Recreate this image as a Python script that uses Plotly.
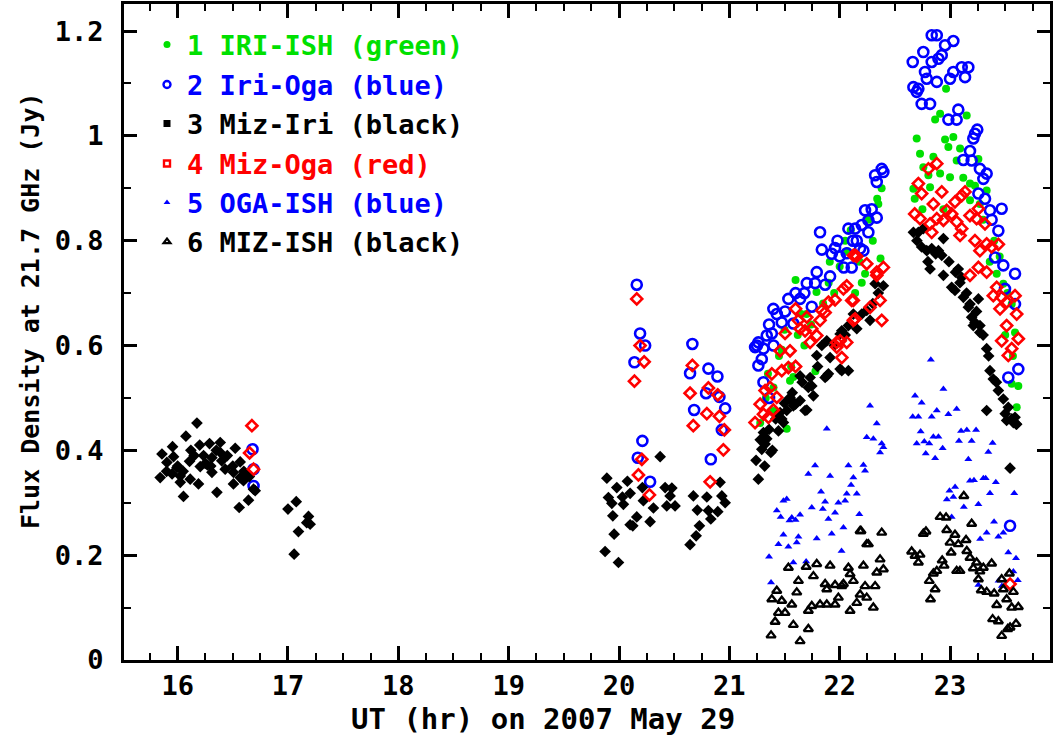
import plotly.graph_objects as go

# ---------------- data: (UT hour, flux density Jy) ----------------
iri_ish = [  # 1 IRI-ISH (green)
    (21.28, 0.452), (21.35, 0.546), (21.40, 0.520), (21.475, 0.592), (21.52, 0.441), (21.55, 0.533),
    (21.58, 0.540), (21.60, 0.725), (21.62, 0.620), (21.68, 0.600), (21.78, 0.551), (21.79, 0.702),
    (21.70, 0.660), (21.85, 0.680), (21.91, 0.760), (22.00, 0.751), (22.05, 0.800), (22.10, 0.820),
    (22.14, 0.700), (22.20, 0.720), (22.23, 0.737), (22.30, 0.800), (22.35, 0.870), (22.37, 0.766),
    (22.38, 0.900), (22.34, 0.880), (21.45, 0.580), (21.50, 0.630), (21.65, 0.660), (21.90, 0.720),
    (22.07, 0.780), (21.40, 0.475), (21.33, 0.500), (21.56, 0.560), (21.74, 0.640), (21.95, 0.700),
    (22.26, 0.840), (22.18, 0.760),
    (22.964, 1.090), (22.91, 1.042), (22.865, 1.031), (23.151, 1.039), (22.698, 0.995), (22.955, 0.993),
    (23.03, 0.998), (22.985, 0.979), (23.091, 0.976), (22.728, 0.966), (22.849, 0.960), (23.06, 0.953),
    (23.257, 0.956), (22.758, 0.940), (22.91, 0.928), (23.00, 0.921), (22.804, 0.925), (23.181, 0.909),
    (22.668, 0.899), (22.819, 0.902), (23.226, 0.905), (23.332, 0.896), (23.181, 0.877), (23.423, 0.737),
    (23.483, 0.718), (23.559, 0.679), (23.589, 0.625), (23.559, 0.527), (23.619, 0.523), (23.604, 0.482),
    (22.68, 0.880), (22.75, 0.860), (23.12, 0.920), (23.27, 0.870), (23.30, 0.840), (23.40, 0.800),
    (23.45, 0.770), (23.52, 0.700), (23.57, 0.580), (23.50, 0.620), (22.94, 0.860), (23.36, 0.760),
]

iri_oga = [  # 2 Iri-Oga (blue)
    (16.679, 0.402), (16.688, 0.364), (16.688, 0.332),
    (20.161, 0.716), (20.191, 0.623), (20.237, 0.600), (20.14, 0.568), (20.212, 0.418), (20.17, 0.386),
    (20.282, 0.340),
    (20.665, 0.603), (20.644, 0.547), (20.81, 0.556), (20.892, 0.541), (20.789, 0.509), (20.91, 0.502),
    (20.962, 0.480), (20.681, 0.477), (20.932, 0.439), (20.832, 0.383),
    (21.822, 0.816), (22.079, 0.823), (22.14, 0.823), (22.155, 0.800), (21.838, 0.783), (21.958, 0.786),
    (21.928, 0.775), (22.064, 0.776), (22.109, 0.749), (21.792, 0.740), (21.913, 0.732), (21.702, 0.719),
    (21.777, 0.719), (21.868, 0.716), (21.641, 0.689), (21.535, 0.689), (21.747, 0.674), (21.399, 0.670),
    (21.505, 0.665), (21.475, 0.644), (21.58, 0.642), (21.385, 0.623), (21.339, 0.619), (21.263, 0.606),
    (21.233, 0.597), (21.309, 0.594), (21.294, 0.574), (21.263, 0.562), (21.309, 0.530), (22.037, 0.749),
    (22.381, 0.937), (22.396, 0.931), (22.321, 0.925), (22.336, 0.912), (22.23, 0.858), (22.336, 0.844),
    (22.26, 0.839), (22.26, 0.816), (22.185, 0.785), (22.215, 0.781),
    (21.25, 0.600), (21.36, 0.640), (21.43, 0.660), (21.60, 0.700), (21.68, 0.700), (21.98, 0.800),
    (22.00, 0.770), (22.12, 0.800), (22.29, 0.860), (22.20, 0.830), (21.36, 0.500), (21.40, 0.600),
    (22.834, 1.192), (22.88, 1.192), (22.955, 1.173), (23.03, 1.181), (22.758, 1.160), (22.925, 1.154),
    (22.895, 1.147), (22.662, 1.141), (22.834, 1.141), (22.773, 1.122), (23.106, 1.131), (23.166, 1.131),
    (23.03, 1.122), (23.136, 1.112), (22.789, 1.109), (23.00, 1.109), (22.88, 1.103), (22.668, 1.093),
    (22.713, 1.090), (22.698, 1.084), (22.743, 1.061), (22.819, 1.061), (23.075, 1.050), (22.985, 1.031),
    (23.06, 1.031), (23.247, 1.012), (23.226, 1.004), (23.211, 0.995), (23.181, 0.971), (23.121, 0.954),
    (23.196, 0.953), (23.271, 0.937), (23.332, 0.928), (23.302, 0.918), (23.257, 0.890), (23.317, 0.880),
    (23.468, 0.861), (23.362, 0.858), (23.377, 0.840), (23.438, 0.819), (23.408, 0.768), (23.483, 0.753),
    (23.589, 0.737), (23.498, 0.708), (23.589, 0.679), (23.619, 0.555), (23.528, 0.539), (23.544, 0.256),
]

miz_iri = [  # 3 Miz-Iri (black)
    (16.175, 0.452), (16.075, 0.427), (15.954, 0.407), (16.289, 0.413), (16.386, 0.415), (16.522, 0.404),
    (15.858, 0.393), (15.963, 0.388), (15.903, 0.377), (16.108, 0.379), (16.235, 0.390), (16.311, 0.386),
    (16.386, 0.396), (16.567, 0.378), (15.994, 0.367), (16.205, 0.369), (16.431, 0.364), (15.842, 0.348),
    (16.024, 0.351), (16.114, 0.345), (16.311, 0.358), (16.506, 0.358), (16.567, 0.348), (16.189, 0.336),
    (16.024, 0.339), (16.053, 0.312), (16.356, 0.320), (16.506, 0.336), (16.703, 0.323), (16.642, 0.305),
    (16.558, 0.291), (16.597, 0.342), (16.688, 0.326),
    (15.90, 0.360), (15.95, 0.355), (16.00, 0.370), (16.05, 0.360), (16.15, 0.390), (16.25, 0.375),
    (16.30, 0.370), (16.35, 0.400), (16.40, 0.380), (16.45, 0.390), (16.50, 0.370), (16.60, 0.360),
    (16.65, 0.350), (16.27, 0.372), (16.12, 0.400), (16.20, 0.410),
    (17.00, 0.288), (17.075, 0.302), (17.186, 0.274), (17.201, 0.259), (17.095, 0.245), (17.056, 0.202),
    (17.17, 0.262),
    (20.373, 0.388), (19.89, 0.347), (20.076, 0.341), (19.98, 0.329), (19.904, 0.310), (20.031, 0.311),
    (20.101, 0.318), (20.212, 0.329), (20.418, 0.329), (20.479, 0.328), (19.935, 0.299), (20.04, 0.297),
    (20.221, 0.304), (20.312, 0.290), (20.433, 0.294), (20.508, 0.294), (20.463, 0.313), (19.944, 0.275),
    (20.161, 0.273), (20.101, 0.258), (20.125, 0.256), (20.282, 0.264), (19.956, 0.240), (19.874, 0.207),
    (19.995, 0.186),
    (20.916, 0.339), (20.674, 0.313), (20.796, 0.311), (20.932, 0.313), (20.962, 0.300), (20.71, 0.286),
    (20.81, 0.285), (20.895, 0.283), (20.832, 0.269), (20.729, 0.256), (20.699, 0.237), (20.644, 0.220),
    (21.263, 0.345), (21.242, 0.381), (21.376, 0.396), (21.294, 0.402), (21.339, 0.422), (21.309, 0.434),
    (21.445, 0.437), (21.49, 0.453), (21.52, 0.476), (21.60, 0.488), (21.686, 0.476), (21.641, 0.495),
    (21.762, 0.504), (21.716, 0.520), (21.732, 0.539), (21.641, 0.542), (21.883, 0.542), (21.792, 0.581),
    (21.913, 0.577), (22.004, 0.555), (22.079, 0.552), (21.883, 0.609), (22.019, 0.628), (22.155, 0.632),
    (22.275, 0.648), (22.321, 0.718), (22.396, 0.714), (22.245, 0.667), (21.46, 0.472), (21.55, 0.501),
    (21.324, 0.412), (21.747, 0.523), (21.702, 0.477), (21.55, 0.498), (21.58, 0.485), (21.475, 0.460),
    (22.019, 0.552), (21.838, 0.600), (22.004, 0.622), (22.079, 0.638), (22.124, 0.660), (21.898, 0.546),
    (21.868, 0.539),
    (21.28, 0.420), (21.36, 0.440), (21.42, 0.460), (21.50, 0.490), (21.57, 0.510), (21.66, 0.530),
    (21.80, 0.560), (21.95, 0.600), (22.05, 0.620), (22.20, 0.660), (22.30, 0.680), (22.35, 0.700),
    (21.32, 0.370), (21.39, 0.400),
    (22.668, 0.816), (22.713, 0.816), (22.758, 0.823), (22.743, 0.788), (22.789, 0.781), (22.834, 0.785),
    (22.895, 0.781), (22.94, 0.804), (22.925, 0.772), (22.819, 0.746), (22.94, 0.734), (23.075, 0.746),
    (23.106, 0.730), (23.015, 0.711), (23.045, 0.705), (23.121, 0.692), (23.181, 0.679), (23.257, 0.689),
    (23.166, 0.673), (23.196, 0.654), (23.226, 0.644), (23.271, 0.638), (23.211, 0.638), (23.332, 0.594),
    (23.362, 0.552), (23.392, 0.536), (23.438, 0.514), (23.483, 0.498), (23.528, 0.482), (23.332, 0.476),
    (23.589, 0.463), (23.513, 0.457), (23.574, 0.453), (23.604, 0.450), (23.544, 0.366),
    (22.70, 0.800), (22.80, 0.760), (22.87, 0.775), (22.99, 0.760), (23.05, 0.740), (23.15, 0.700),
    (23.24, 0.665), (23.30, 0.620), (23.35, 0.580), (23.42, 0.530), (23.50, 0.470), (23.56, 0.460),
    (23.60, 0.450), (23.27, 0.625), (23.09, 0.720),
]

miz_oga = [  # 4 Miz-Oga (red)
    (16.673, 0.447), (16.652, 0.395), (16.688, 0.364),
    (20.161, 0.689), (20.191, 0.600), (20.228, 0.569), (20.14, 0.532), (20.207, 0.383), (20.176, 0.353),
    (20.276, 0.315),
    (20.665, 0.562), (20.644, 0.509), (20.81, 0.519), (20.895, 0.506), (20.796, 0.470), (20.91, 0.465),
    (20.673, 0.447), (20.955, 0.439), (20.946, 0.401), (20.826, 0.340),
    (21.60, 0.670), (21.702, 0.654), (21.641, 0.632), (21.747, 0.632), (21.822, 0.648), (21.868, 0.663),
    (21.958, 0.687), (22.034, 0.708), (22.064, 0.714), (22.124, 0.772), (22.124, 0.648), (22.109, 0.686),
    (21.973, 0.606), (22.064, 0.606), (22.019, 0.577), (21.505, 0.623), (21.792, 0.619), (21.732, 0.606),
    (21.46, 0.590), (21.55, 0.590), (21.475, 0.552), (21.60, 0.560), (21.535, 0.558), (21.385, 0.546),
    (21.369, 0.520), (21.324, 0.514), (21.43, 0.501), (21.279, 0.488), (21.399, 0.477), (21.309, 0.469),
    (21.233, 0.453), (21.354, 0.463), (21.838, 0.667), (21.898, 0.683), (21.686, 0.628), (21.625, 0.648),
    (22.14, 0.772), (22.245, 0.756), (22.396, 0.749), (22.336, 0.740), (22.155, 0.770), (22.336, 0.734),
    (22.124, 0.686), (22.366, 0.686), (22.275, 0.673), (22.381, 0.648), (22.14, 0.651), (22.004, 0.609),
    (21.973, 0.597),
    (22.88, 0.947), (22.804, 0.937), (22.713, 0.909), (22.743, 0.890), (22.925, 0.893), (22.849, 0.870),
    (23.136, 0.893), (23.106, 0.886), (23.045, 0.874), (22.68, 0.851), (22.728, 0.842), (22.97, 0.858),
    (23.015, 0.851), (23.257, 0.861), (22.94, 0.839), (22.88, 0.842), (23.181, 0.848), (22.819, 0.832),
    (23.06, 0.836), (23.317, 0.832), (23.241, 0.842), (23.106, 0.823), (22.834, 0.816), (23.091, 0.810),
    (23.226, 0.800), (23.271, 0.781), (23.332, 0.794), (23.438, 0.793), (23.377, 0.788), (23.181, 0.734),
    (23.257, 0.749), (23.332, 0.740), (23.392, 0.695), (23.468, 0.692), (23.423, 0.711), (23.589, 0.695),
    (23.453, 0.670), (23.513, 0.683), (23.604, 0.660), (23.513, 0.638), (23.468, 0.609), (23.619, 0.613),
    (23.559, 0.594), (23.528, 0.581), (23.544, 0.145),
]

oga_ish = [  # 5 OGA-ISH (blue)
    (21.777, 0.371), (21.716, 0.355), (21.913, 0.351), (22.079, 0.371), (22.215, 0.372), (22.23, 0.361),
    (22.124, 0.348), (22.103, 0.334), (21.831, 0.321), (22.064, 0.317), (22.155, 0.317), (21.49, 0.304),
    (21.52, 0.307), (21.868, 0.302), (21.988, 0.300), (22.049, 0.304), (21.747, 0.291), (21.847, 0.288),
    (21.43, 0.285), (21.958, 0.281), (21.641, 0.277), (21.566, 0.272), (21.465, 0.273), (21.898, 0.269),
    (21.545, 0.266), (21.60, 0.267), (22.178, 0.278), (22.034, 0.253), (21.49, 0.239), (21.626, 0.235),
    (21.445, 0.221), (21.535, 0.216), (21.611, 0.224), (21.792, 0.232), (21.928, 0.241), (21.36, 0.197),
    (21.58, 0.186), (21.696, 0.188), (22.017, 0.208), (21.378, 0.148), (22.275, 0.485), (22.336, 0.451),
    (22.245, 0.425), (22.305, 0.422), (22.381, 0.413), (22.366, 0.396), (21.883, 0.441), (22.396, 0.406),
    (22.826, 0.573), (22.94, 0.517), (22.683, 0.504), (22.743, 0.491), (23.06, 0.479), (22.88, 0.476),
    (22.985, 0.469), (22.662, 0.464), (22.713, 0.464), (22.834, 0.464), (22.734, 0.436), (22.849, 0.426),
    (22.895, 0.426), (23.10, 0.437), (23.152, 0.439), (23.236, 0.439), (22.698, 0.413), (22.767, 0.417),
    (22.812, 0.413), (23.081, 0.418), (23.196, 0.418), (23.386, 0.414), (22.933, 0.404), (22.78, 0.394),
    (22.865, 0.385), (23.166, 0.383), (23.347, 0.397), (23.181, 0.342), (23.217, 0.343), (23.302, 0.347),
    (23.323, 0.347), (23.046, 0.330), (22.995, 0.323), (23.415, 0.339), (23.03, 0.311), (23.362, 0.318),
    (22.971, 0.306), (23.257, 0.297), (23.125, 0.292), (23.582, 0.318), (23.015, 0.273), (23.399, 0.264),
    (23.332, 0.243), (23.483, 0.243), (23.273, 0.231), (23.438, 0.235), (23.528, 0.205), (23.598, 0.194),
    (23.574, 0.169), (23.614, 0.152), (23.257, 0.143), (23.44, 0.151), (23.47, 0.141),
]

miz_ish = [  # 6 MIZ-ISH (black)
    (22.193, 0.246), (22.245, 0.221), (21.535, 0.176), (21.696, 0.178), (21.792, 0.183), (21.913, 0.180),
    (22.079, 0.176), (22.215, 0.180), (21.762, 0.160), (21.626, 0.151), (22.094, 0.164), (22.124, 0.151),
    (22.034, 0.145), (21.868, 0.145), (21.958, 0.143), (22.019, 0.141), (22.23, 0.141), (21.883, 0.135),
    (21.43, 0.132), (21.611, 0.129), (21.385, 0.116), (21.475, 0.113), (21.566, 0.106), (22.185, 0.125),
    (22.245, 0.119), (22.155, 0.109), (21.988, 0.119), (21.747, 0.103), (21.822, 0.106), (21.883, 0.106),
    (21.958, 0.106), (21.716, 0.094), (22.094, 0.094), (21.505, 0.090), (21.445, 0.090), (21.415, 0.073),
    (21.58, 0.067), (21.716, 0.059), (21.378, 0.047), (21.641, 0.036), (22.381, 0.243), (22.185, 0.246),
    (22.26, 0.221), (22.366, 0.192), (22.336, 0.167), (22.396, 0.173), (22.321, 0.141), (22.305, 0.100),
    (23.125, 0.313), (22.91, 0.273), (22.964, 0.272), (23.196, 0.260), (22.758, 0.241), (22.782, 0.245),
    (22.97, 0.248), (23.045, 0.239), (23.145, 0.229), (23.00, 0.224), (23.075, 0.221), (22.652, 0.207),
    (22.728, 0.201), (22.683, 0.199), (23.01, 0.205), (23.152, 0.208), (23.181, 0.195), (22.713, 0.186),
    (22.929, 0.190), (23.241, 0.186), (23.377, 0.184), (22.946, 0.180), (23.06, 0.170), (23.09, 0.170),
    (23.211, 0.175), (23.302, 0.176), (23.271, 0.169), (22.88, 0.170), (22.849, 0.165), (22.812, 0.151),
    (23.257, 0.154), (23.468, 0.154), (23.538, 0.165), (22.865, 0.135), (23.283, 0.133), (23.332, 0.130),
    (23.40, 0.127), (23.483, 0.135), (23.574, 0.130), (22.823, 0.116), (23.513, 0.116), (23.423, 0.105),
    (23.559, 0.100), (23.619, 0.101), (23.386, 0.078), (23.438, 0.074), (23.598, 0.069), (23.544, 0.062),
    (23.523, 0.059), (23.468, 0.046),
]

legend_labels = ["1 IRI-ISH (green)", "2 Iri-Oga (blue)", "3 Miz-Iri (black)",
                 "4 Miz-Oga (red)", "5 OGA-ISH (blue)", "6 MIZ-ISH (black)"]
x_title = "UT (hr) on 2007 May 29"
y_title = "Flux Density at 21.7 GHz (Jy)"

GREEN, BLUE, BLACK, RED = "#00e000", "#0000ff", "#000000", "#ff0000"
FONT = "DejaVu Sans Mono"

series = [
    (iri_ish, dict(symbol="circle", size=8, color=GREEN, line=dict(width=0))),
    (iri_oga, dict(symbol="circle-open", size=10, color=BLUE, line=dict(width=2.6, color=BLUE))),
    (miz_iri, dict(symbol="diamond", size=9, color=BLACK, line=dict(width=0))),
    (miz_oga, dict(symbol="diamond-open", size=8.5, color=RED, line=dict(width=2.6, color=RED))),
    (oga_ish, dict(symbol="triangle-up", size=7, color=BLUE, line=dict(width=0))),
    (miz_ish, dict(symbol="triangle-up-open", size=8, color=BLACK, line=dict(width=2.4, color=BLACK))),
]

legend_markers = [
    dict(symbol="circle", size=7, color=GREEN),
    dict(symbol="circle-open", size=7, color=BLUE, line=dict(width=2.4, color=BLUE)),
    dict(symbol="square", size=7, color=BLACK),
    dict(symbol="square-open", size=6, color=RED, line=dict(width=2.4, color=RED)),
    dict(symbol="triangle-up", size=6, color=BLUE),
    dict(symbol="triangle-up-open", size=6, color=BLACK, line=dict(width=2.2, color=BLACK)),
]
legend_colors = [GREEN, BLUE, BLACK, RED, BLUE, BLACK]

fig = go.Figure()
for pts, mk in series:
    fig.add_trace(go.Scatter(x=[p[0] for p in pts], y=[p[1] for p in pts], mode="markers",
                             marker=mk, showlegend=False, hoverinfo="skip"))

# legend entries (one small legend per line so each text has its own colour)
W, H = 1055, 736
ML, MR, MT, MB = 124, 5, 4, 76
pw, ph = W - ML - MR, H - MT - MB
row_px = [45, 85, 124, 164, 203, 242]
legend_layouts = {}
for i, (lab, mk, col, ry) in enumerate(zip(legend_labels, legend_markers, legend_colors, row_px)):
    lname = "legend" if i == 0 else f"legend{i+1}"
    fig.add_trace(go.Scatter(x=[None], y=[None], mode="markers", marker=mk, name=lab,
                             legend=lname, showlegend=True))
    legend_layouts[lname] = dict(
        x=(147 - ML) / pw, y=1 - (ry - MT) / ph, xanchor="left", yanchor="middle",
        bgcolor="rgba(0,0,0,0)", borderwidth=0,
        font=dict(family=FONT, size=27, color=col, weight="bold"),
        itemwidth=30,
    )

axis_common = dict(
    showline=True, linewidth=3, linecolor="black", mirror="allticks",
    ticks="inside", tickwidth=2.5, tickcolor="black",
    showgrid=False, zeroline=False, automargin=False,
    tickfont=dict(family=FONT, size=27, color="black", weight="bold"),
)

fig.update_layout(
    width=W, height=H,
    margin=dict(l=ML, r=MR, t=MT, b=MB),
    paper_bgcolor="white", plot_bgcolor="white",
    xaxis=dict(range=[15.514, 23.906], tick0=16, dtick=1, ticklen=14,
               minor=dict(dtick=0.25, ticks="inside", ticklen=7, tickwidth=2, tickcolor="black"),
               ticklabelstandoff=0, **axis_common),
    yaxis=dict(range=[0, 1.2516], tick0=0, dtick=0.2, ticklen=13,
               minor=dict(dtick=0.1, ticks="inside", ticklen=7, tickwidth=2, tickcolor="black"),
               ticklabelstandoff=12, **axis_common),
    annotations=[
        dict(text=x_title, xref="paper", yref="paper", x=(543 - ML) / pw, y=-(719 - MT - ph) / ph,
             xanchor="center", yanchor="middle", showarrow=False,
             font=dict(family=FONT, size=29, color="black", weight="bold")),
        dict(text=y_title, xref="paper", yref="paper", x=-(ML - 30) / pw, y=1 - (311 - MT) / ph,
             xanchor="center", yanchor="middle", textangle=-90, showarrow=False,
             font=dict(family=FONT, size=25, color="black", weight="bold")),
    ],
    **legend_layouts,
)

fig.write_html("out.html")
